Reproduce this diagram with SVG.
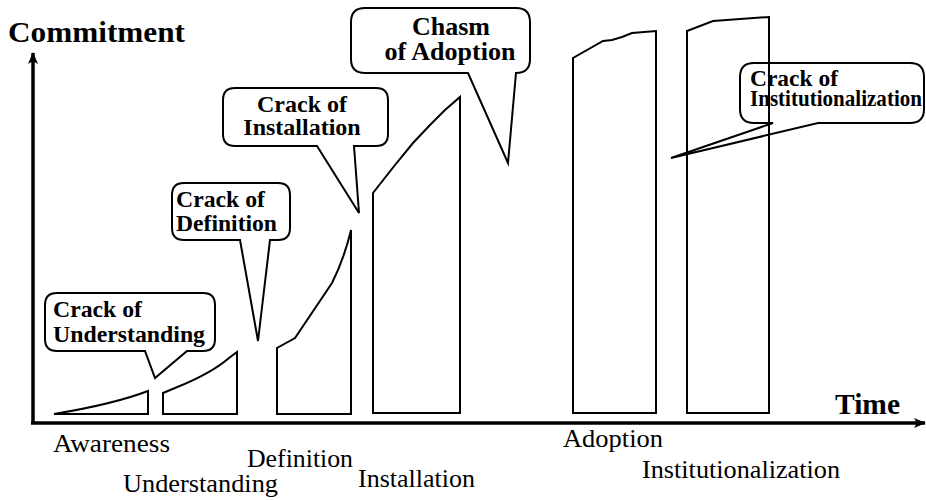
<svg xmlns="http://www.w3.org/2000/svg" width="926" height="500" viewBox="0 0 926 500">
<defs>
<marker id="ah" viewBox="0 0 12 10" refX="11" refY="5" markerWidth="12" markerHeight="10" markerUnits="userSpaceOnUse" orient="auto">
<path d="M0,0 L12,5 L0,10 L3,5 Z" fill="#000"/>
</marker>
</defs>
<rect width="926" height="500" fill="#fff"/>

<g id="connectors" stroke="#000" stroke-width="3.5" fill="none">
<line x1="33" y1="423" x2="33" y2="53" marker-end="url(#ah)"/>
<line x1="31" y1="423" x2="925" y2="423" marker-end="url(#ah)"/>
</g>

<g id="axis-labels">
<text x="8" y="42" textLength="177" lengthAdjust="spacingAndGlyphs" font-family="Liberation Serif" font-size="30" font-weight="bold"><tspan font-family="Liberation Serif" style="font-family:'Liberation Serif'">Commitment</tspan></text>
<text x="835" y="414" textLength="65" lengthAdjust="spacingAndGlyphs" font-family="Liberation Serif" font-size="30" font-weight="bold"><tspan font-family="Liberation Serif" style="font-family:'Liberation Serif'">Time</tspan></text>
</g>

<g id="callout-understanding">
<path fill="#fff" stroke="#000" stroke-width="2" d="M57,293 H203 Q215,293 215,305 V339 Q215,351 203,351 H187 L155,378 L145,351 H57 Q45,351 45,339 V305 Q45,293 57,293 Z"/>
<text x="53" y="317" textLength="89" lengthAdjust="spacingAndGlyphs" font-family="Liberation Serif" font-size="24" font-weight="bold"><tspan font-family="Liberation Serif" style="font-family:'Liberation Serif'">Crack of</tspan></text>
<text x="53" y="342" textLength="152" lengthAdjust="spacingAndGlyphs" font-family="Liberation Serif" font-size="24" font-weight="bold"><tspan font-family="Liberation Serif" style="font-family:'Liberation Serif'">Understanding</tspan></text>
</g>

<g id="callout-definition">
<path fill="#fff" stroke="#000" stroke-width="2" d="M184,183 H278 Q290,183 290,195 V228 Q290,240 278,240 H270 L258,341 L240,240 H184 Q172,240 172,228 V195 Q172,183 184,183 Z"/>
<text x="176" y="207" textLength="89" lengthAdjust="spacingAndGlyphs" font-family="Liberation Serif" font-size="24" font-weight="bold"><tspan font-family="Liberation Serif" style="font-family:'Liberation Serif'">Crack of</tspan></text>
<text x="176" y="231" textLength="101" lengthAdjust="spacingAndGlyphs" font-family="Liberation Serif" font-size="24" font-weight="bold"><tspan font-family="Liberation Serif" style="font-family:'Liberation Serif'">Definition</tspan></text>
</g>

<g id="callout-installation">
<path fill="#fff" stroke="#000" stroke-width="2" d="M235,88 H376 Q388,88 388,100 V134 Q388,146 376,146 H354 L359,213 L317,146 H235 Q223,146 223,134 V100 Q223,88 235,88 Z"/>
<text x="302" y="112" text-anchor="middle" font-family="Liberation Serif" font-size="24" font-weight="bold"><tspan font-family="Liberation Serif" style="font-family:'Liberation Serif'">Crack of</tspan></text>
<text x="302" y="135" text-anchor="middle" font-family="Liberation Serif" font-size="24" font-weight="bold"><tspan font-family="Liberation Serif" style="font-family:'Liberation Serif'">Installation</tspan></text>
</g>

<g id="callout-chasm">
<path fill="#fff" stroke="#000" stroke-width="2" d="M365,8 H516 Q530,8 530,22 V59 Q530,73 516,73 L508,163 L468,73 H365 Q351,73 351,59 V22 Q351,8 365,8 Z"/>
<text x="451" y="35" text-anchor="middle" font-family="Liberation Serif" font-size="26" font-weight="bold"><tspan font-family="Liberation Serif" style="font-family:'Liberation Serif'">Chasm</tspan></text>
<text x="450" y="60" text-anchor="middle" font-family="Liberation Serif" font-size="26" font-weight="bold"><tspan font-family="Liberation Serif" style="font-family:'Liberation Serif'">of Adoption</tspan></text>
</g>

<g id="callout-institutionalization">
<path fill="#fff" stroke="#000" stroke-width="2" d="M754,63 H910 Q924,63 924,77 V109 Q924,123 910,123 H818 L671,158 L773,123 H754 Q740,123 740,109 V77 Q740,63 754,63 Z"/>
<text x="750" y="86" textLength="88" lengthAdjust="spacingAndGlyphs" font-family="Liberation Serif" font-size="24" font-weight="bold"><tspan font-family="Liberation Serif" style="font-family:'Liberation Serif'">Crack of</tspan></text>
<text x="750" y="106" textLength="172" lengthAdjust="spacingAndGlyphs" font-family="Liberation Serif" font-size="23" font-weight="bold"><tspan font-family="Liberation Serif" style="font-family:'Liberation Serif'">Institutionalization</tspan></text>
</g>

<g id="awareness">
<path fill="none" stroke="#000" stroke-width="2" d="M54,414 C90,408 122,401 148,391 L148,414 Z"/>
<text x="53" y="452" textLength="117" lengthAdjust="spacingAndGlyphs" font-family="Liberation Serif" font-size="26"><tspan font-family="Liberation Serif" style="font-family:'Liberation Serif'">Awareness</tspan></text>
</g>

<g id="understanding">
<path fill="none" stroke="#000" stroke-width="2" d="M163,414 L163,393 L175,388 C195,380 214,371 229,358 L237,352 L237,414 Z"/>
<text x="123" y="492" textLength="155" lengthAdjust="spacingAndGlyphs" font-family="Liberation Serif" font-size="26"><tspan font-family="Liberation Serif" style="font-family:'Liberation Serif'">Understanding</tspan></text>
</g>

<g id="definition">
<path fill="none" stroke="#000" stroke-width="2" d="M277,414 L277,348 L295,338 L332,283 C341,265 347,247 351,230 L351,414 Z"/>
<text x="247" y="467" textLength="106" lengthAdjust="spacingAndGlyphs" font-family="Liberation Serif" font-size="26"><tspan font-family="Liberation Serif" style="font-family:'Liberation Serif'">Definition</tspan></text>
</g>

<g id="installation">
<path fill="none" stroke="#000" stroke-width="2" d="M373,413 L373,193 L395,165 L413,143 L430,125 L445,110 L460,97 L460,413 Z"/>
<text x="358" y="487" textLength="117" lengthAdjust="spacingAndGlyphs" font-family="Liberation Serif" font-size="26"><tspan font-family="Liberation Serif" style="font-family:'Liberation Serif'">Installation</tspan></text>
</g>

<g id="adoption">
<path fill="none" stroke="#000" stroke-width="2" d="M573,413 L573,58 L603,41 L612,40 L622,37 L632,33 L656,31 L656,413 Z"/>
<text x="563" y="447" textLength="100" lengthAdjust="spacingAndGlyphs" font-family="Liberation Serif" font-size="26"><tspan font-family="Liberation Serif" style="font-family:'Liberation Serif'">Adoption</tspan></text>
</g>

<g id="institutionalization">
<path fill="none" stroke="#000" stroke-width="2" d="M687,413 L687,31 L713,21 L769,17 L769,413 Z"/>
<text x="642" y="478" textLength="198" lengthAdjust="spacingAndGlyphs" font-family="Liberation Serif" font-size="26"><tspan font-family="Liberation Serif" style="font-family:'Liberation Serif'">Institutionalization</tspan></text>
</g>
</svg>
